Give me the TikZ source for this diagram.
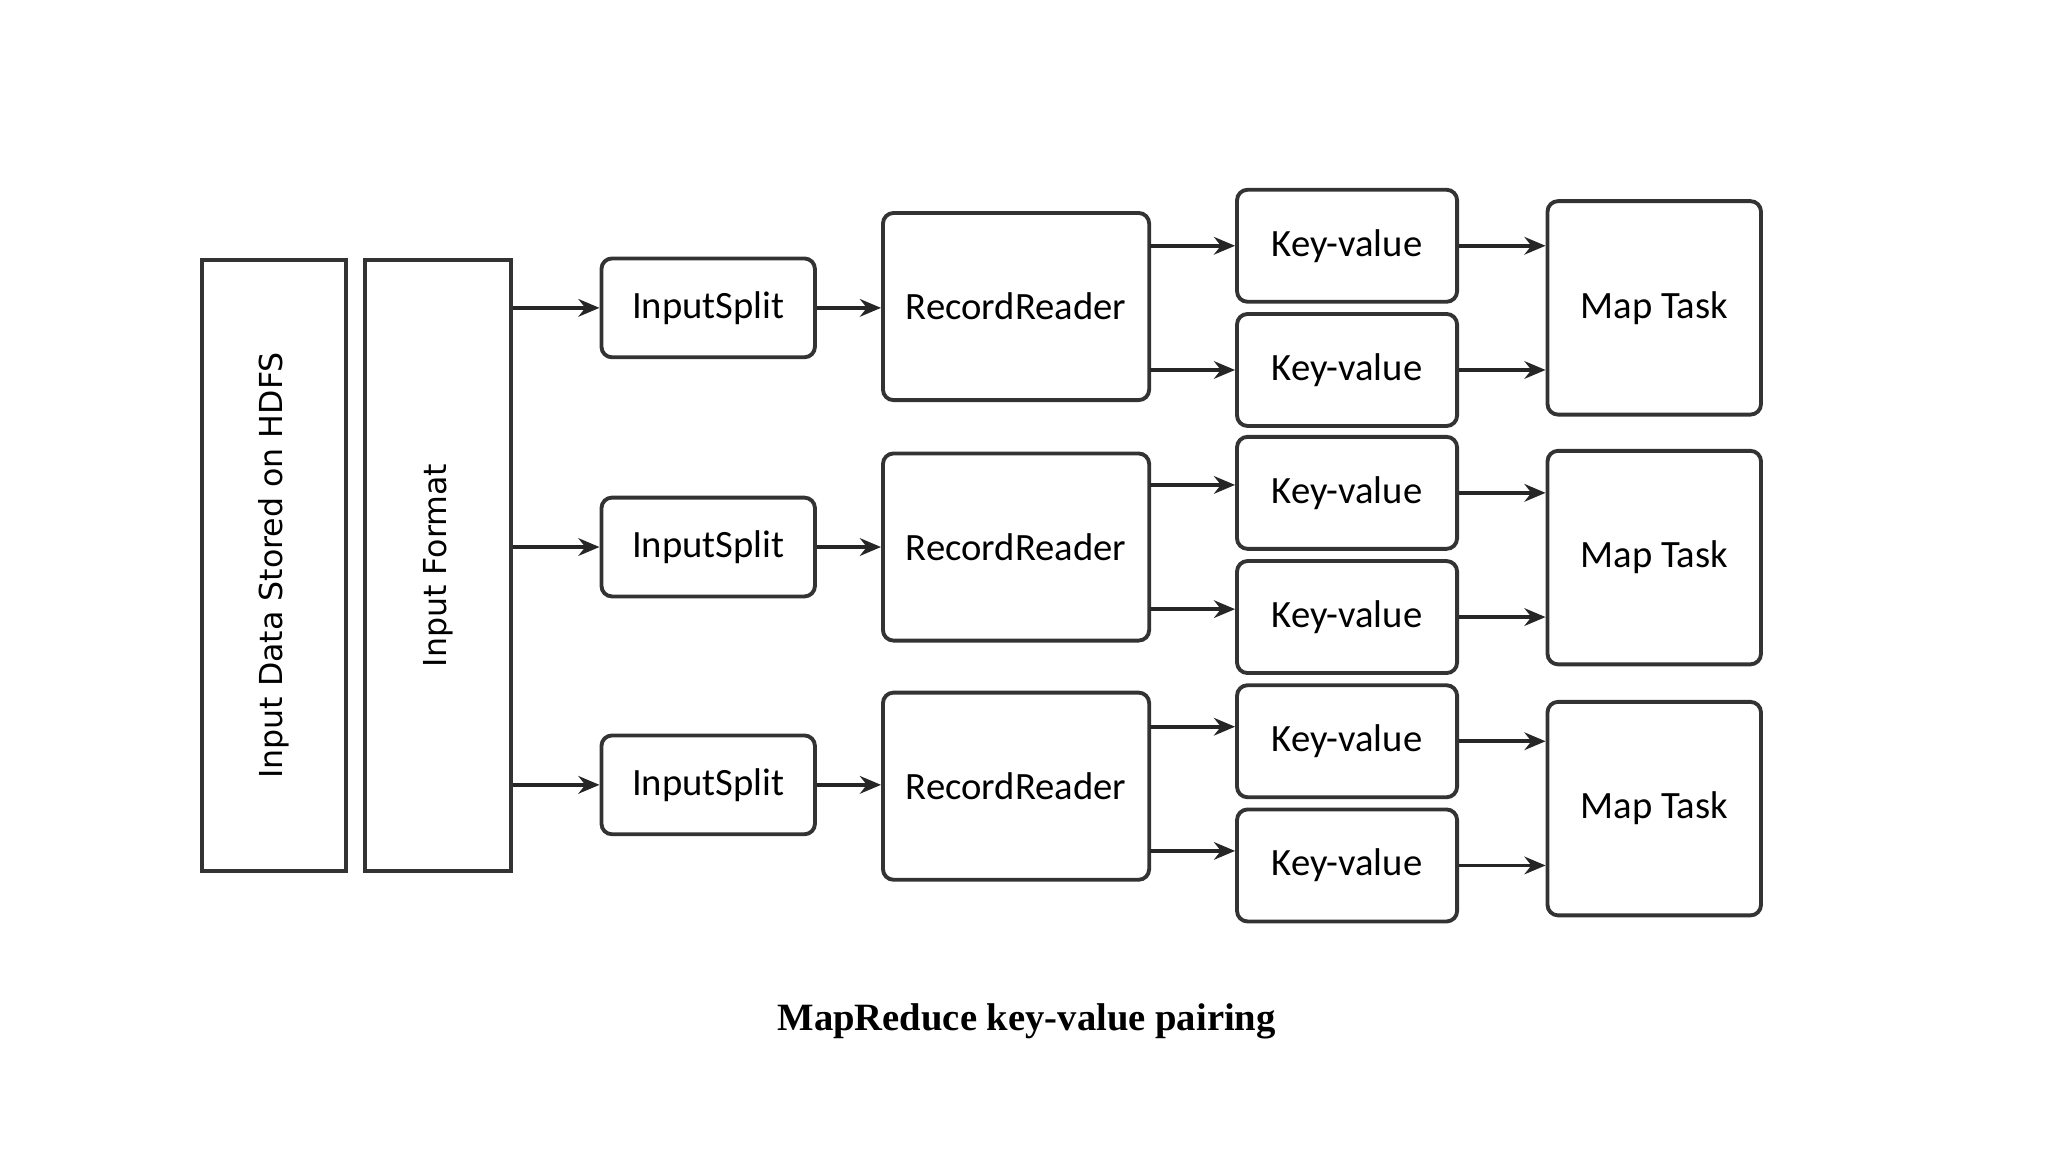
\documentclass[tikz,border=0pt]{standalone}
\usepackage{fontspec}
\setmainfont{Liberation Serif}
\newfontfamily\boxfont{Carlito}
\newfontfamily\vfont{DejaVu Sans}
\usetikzlibrary{arrows.meta}
\begin{document}
\begin{tikzpicture}[x=0.013213cm,y=-0.013213cm,
  bx/.style={draw=black!80,line width=1.1pt,rounded corners=3pt,inner sep=0pt,font=\boxfont\fontsize{11}{13}\selectfont},
  tall/.style={draw=black!80,line width=1.1pt,inner sep=0pt,minimum width=109\pgflinewidth},
  ar/.style={draw=black!85,line width=1.1pt,-{Stealth[length=6pt,width=5pt]}}]
\useasboundingbox (0,0) rectangle (1550,872);
\node[draw=black!80,line width=1.1pt,minimum width=109*0.375pt,minimum height=464*0.375pt] (hdfs) at (207.5,428) {};
\node[rotate=90,font=\vfont\fontsize{9}{11}\selectfont] at (207.5,428) {Input Data Stored on HDFS};
\node[draw=black!80,line width=1.1pt,minimum width=111*0.375pt,minimum height=464*0.375pt] (fmt) at (331.5,428) {};
\node[rotate=90,font=\vfont\fontsize{9}{11}\selectfont] at (331.5,428) {Input Format};
\foreach \i/\ys/\yr in {1/233/232,2/414/414,3/594/595}{
  \node[bx,minimum width=162*0.375pt,minimum height=75*0.375pt] (is\i) at (536,\ys) {InputSplit};
  \node[bx,minimum width=202*0.375pt,minimum height=142*0.375pt] (rr\i) at (769,\yr) {RecordReader};
  \draw[ar] (fmt.east|-is\i) -- (is\i.west);
  \draw[ar] (is\i.east) -- (rr\i.west|-is\i);
}
\foreach \j/\y in {1/186,2/280,3/373,4/467,5/561,6/655}{
  \node[bx,minimum width=167*0.375pt,minimum height=85*0.375pt] (kv\j) at (1019.5,\y) {Key-value};
}
\foreach \k/\y in {1/233,2/422,3/612}{
  \node[bx,minimum width=162*0.375pt,minimum height=162*0.375pt] (mt\k) at (1252,\y) {Map Task};
}
\coordinate (r1a) at (870,186); \coordinate (r1b) at (870,280);
\coordinate (r2a) at (870,367); \coordinate (r2b) at (870,461);
\coordinate (r3a) at (870,550); \coordinate (r3b) at (870,644);
\draw[ar] (r1a) -- (kv1.west|-r1a);
\draw[ar] (r1b) -- (kv2.west|-r1b);
\draw[ar] (r2a) -- (kv3.west|-r2a);
\draw[ar] (r2b) -- (kv4.west|-r2b);
\draw[ar] (r3a) -- (kv5.west|-r3a);
\draw[ar] (r3b) -- (kv6.west|-r3b);
\draw[ar] (kv1.east) -- (mt1.west|-kv1);
\draw[ar] (kv2.east) -- (mt1.west|-kv2);
\draw[ar] (kv3.east) -- (mt2.west|-kv3);
\draw[ar] (kv4.east) -- (mt2.west|-kv4);
\draw[ar] (kv5.east) -- (mt3.west|-kv5);
\draw[ar] (kv6.east) -- (mt3.west|-kv6);
\node[font=\bfseries\fontsize{11}{13}\selectfont] (cap) at (777,773) {MapReduce key-value pairing};
\end{tikzpicture}
\end{document}
